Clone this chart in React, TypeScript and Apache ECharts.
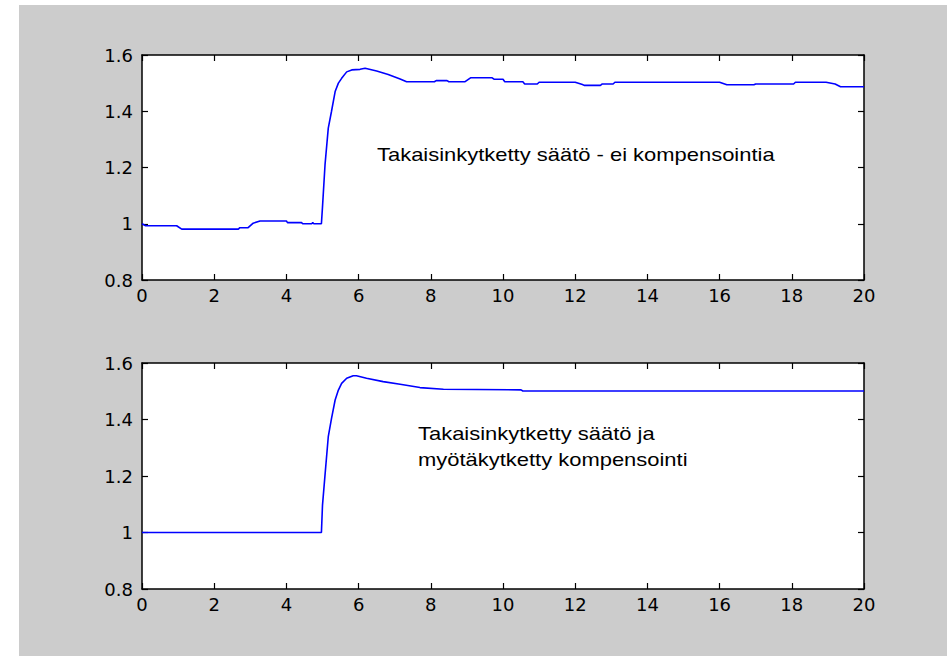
import React, { useEffect, useRef } from "react";
import * as echarts from "echarts";

const xTicks = [0, 2, 4, 6, 8, 10, 12, 14, 16, 18, 20];
const yTicks = [0.8, 1, 1.2, 1.4, 1.6];

const topT = [0, 0.1, 0.96, 1.1, 2.67, 2.71, 2.94, 3.08, 3.27, 4.0, 4.03, 4.42, 4.45, 4.7, 4.73, 4.76, 4.97, 5.0, 5.07, 5.16, 5.25, 5.35, 5.44, 5.53, 5.67, 5.81, 6.04, 6.18, 6.5, 6.82, 7.15, 7.33, 8.1, 8.15, 8.45, 8.5, 8.95, 9.1, 9.7, 9.75, 10.0, 10.05, 10.55, 10.6, 10.95, 11.0, 12.0, 12.2, 12.25, 12.7, 12.75, 13.05, 13.1, 16.0, 16.2, 16.95, 17.0, 18.05, 18.1, 18.95, 19.2, 19.35, 20];
const topV = [1.0, 0.993, 0.993, 0.981, 0.981, 0.986, 0.986, 1.002, 1.01, 1.01, 1.004, 1.004, 1.0, 1.0, 1.004, 1.0, 1.0, 1.06, 1.21, 1.34, 1.4, 1.47, 1.5, 1.517, 1.54, 1.547, 1.549, 1.553, 1.543, 1.531, 1.515, 1.505, 1.505, 1.509, 1.509, 1.505, 1.505, 1.519, 1.519, 1.514, 1.514, 1.505, 1.505, 1.497, 1.497, 1.503, 1.503, 1.495, 1.492, 1.492, 1.497, 1.497, 1.503, 1.503, 1.494, 1.494, 1.497, 1.497, 1.503, 1.503, 1.497, 1.487, 1.487];

const botT = [0, 4.97, 5.0, 5.07, 5.16, 5.25, 5.35, 5.44, 5.53, 5.67, 5.85, 5.94, 6.22, 6.68, 7.15, 7.7, 8.35, 10.5, 10.55, 20];
const botV = [1.0, 1.0, 1.097, 1.204, 1.339, 1.404, 1.469, 1.504, 1.528, 1.546, 1.555, 1.555, 1.546, 1.534, 1.525, 1.513, 1.507, 1.505, 1.501, 1.501];

const topNote = "Takaisinkytketty säätö - ei kompensointia";
const botNote = ["Takaisinkytketty säätö ja", "myötäkytketty kompensointi"];

const FONT = "'Liberation Sans', Arial, Helvetica, sans-serif";
const TICKFONT = "'DejaVu Sans', 'Liberation Sans', sans-serif";

export default function App() {
  const ref = useRef<HTMLDivElement>(null);
  useEffect(() => {
    if (!ref.current) return;
    const chart = echarts.init(ref.current, undefined, { renderer: "svg" });
    const grids = [
      { left: 142, top: 55, width: 722, height: 225 },
      { left: 142, top: 363, width: 722, height: 226 },
    ];
    const axisLine = { show: true, onZero: false, lineStyle: { color: "#000", width: 1.5 } };
    const tick = { show: true, inside: true, length: 6, lineStyle: { color: "#000", width: 1.2 } };
    const xAxes: any[] = [];
    const yAxes: any[] = [];
    grids.forEach((_, gi) => {
      xAxes.push({
        type: "value", gridIndex: gi, position: "bottom", min: 0, max: 20, interval: 2,
        axisLine, axisTick: tick, splitLine: { show: false },
        axisLabel: { show: true, color: "#000", fontSize: 18, fontFamily: TICKFONT, margin: 6, formatter: (v: number) => (xTicks.includes(v) ? String(v) : "") },
      });
      xAxes.push({
        type: "value", gridIndex: gi, position: "top", min: 0, max: 20, interval: 2,
        axisLine, axisTick: tick, splitLine: { show: false }, axisLabel: { show: false },
      });
      yAxes.push({
        type: "value", gridIndex: gi, position: "left", min: 0.8, max: 1.6, interval: 0.2,
        axisLine, axisTick: tick, splitLine: { show: false },
        axisLabel: {
          show: true, color: "#000", fontSize: 18, fontFamily: TICKFONT, margin: 9, padding: [0, 0, 5, 0],
          formatter: (v: number) => {
            const r = Math.round(v * 10) / 10;
            return yTicks.some((t) => Math.abs(t - r) < 1e-6) ? String(r) : "";
          },
        },
      });
      yAxes.push({
        type: "value", gridIndex: gi, position: "right", min: 0.8, max: 1.6, interval: 0.2,
        axisLine, axisTick: tick, splitLine: { show: false }, axisLabel: { show: false },
      });
    });
    chart.setOption({
      animation: false,
      backgroundColor: "#ffffff",
      grid: grids.map((g) => ({ ...g, show: true, backgroundColor: "#ffffff", borderWidth: 0 })),
      xAxis: xAxes,
      yAxis: yAxes,
      graphic: [
        { type: "rect", z: -10, silent: true, shape: { x: 19, y: 5, width: 947 - 19, height: 656 - 5 }, style: { fill: "#cccccc" } },
        { type: "text", z: 100, x: 377, y: 155, scaleX: 1.22, style: { text: topNote, fontSize: 18, fontFamily: FONT, fill: "#000", verticalAlign: "middle", align: "left" } },
        { type: "text", z: 100, x: 418, y: 434, scaleX: 1.22, style: { text: botNote[0], fontSize: 18, fontFamily: FONT, fill: "#000", verticalAlign: "middle", align: "left" } },
        { type: "text", z: 100, x: 418, y: 460, scaleX: 1.22, style: { text: botNote[1], fontSize: 18, fontFamily: FONT, fill: "#000", verticalAlign: "middle", align: "left" } },
      ],
      series: [
        {
          type: "line", xAxisIndex: 0, yAxisIndex: 0, showSymbol: false, symbol: "none",
          lineStyle: { color: "#0000ff", width: 1.6 },
          data: topT.map((t, i) => [t, topV[i]]),
        },
        {
          type: "line", xAxisIndex: 2, yAxisIndex: 2, showSymbol: false, symbol: "none",
          lineStyle: { color: "#0000ff", width: 1.6 },
          data: botT.map((t, i) => [t, botV[i]]),
        },
      ],
    });
    return () => chart.dispose();
  }, []);
  return (
    <div
      ref={ref}
      style={{ position: "fixed", left: 0, top: 0, width: 947, height: 656, background: "#fff" }}
    />
  );
}
